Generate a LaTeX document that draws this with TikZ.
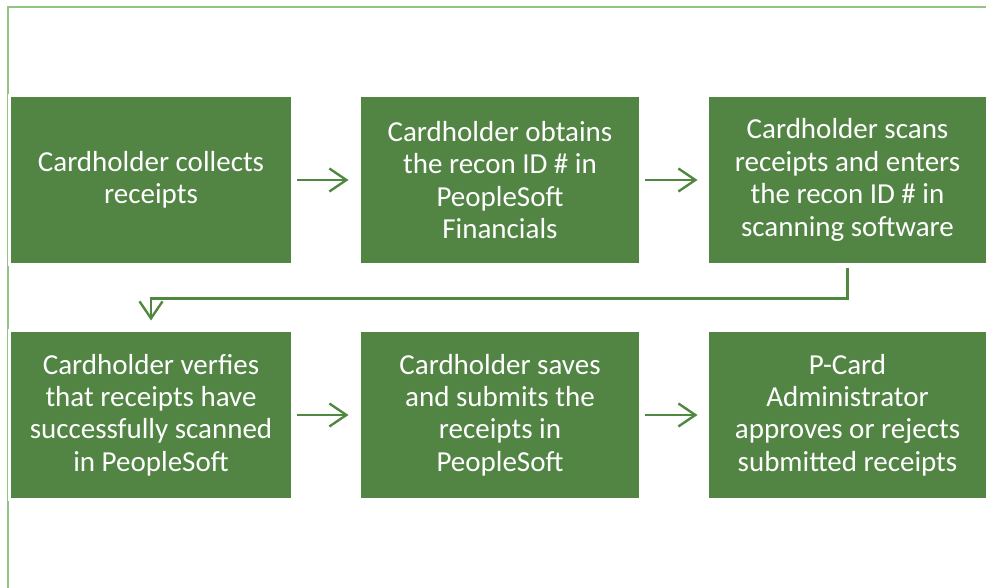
\documentclass[tikz,border=0pt]{standalone}
\usepackage{fontspec}
\setmainfont{Carlito}
\usetikzlibrary{arrows.meta}
\definecolor{boxgreen}{RGB}{82,132,68}
\definecolor{arrowgreen}{RGB}{80,136,64}
\definecolor{framegreen}{RGB}{146,196,132}
\tikzset{
  stepbox/.style={rectangle, fill=boxgreen, draw=white, line width=3pt, minimum height=169pt, inner sep=0pt,
    text=white, align=center, font=\fontsize{29}{32.4}\selectfont},
  flowarrow/.style={draw=arrowgreen, line width=2.4pt, -{Straight Barb[length=17pt,width=23pt,line width=2.4pt]}},
}
\begin{document}
\begin{tikzpicture}[x=1pt,y=-1pt]
\useasboundingbox (0,0) rectangle (986,588);
\fill[white] (0,0) rectangle (986,588);
\draw[framegreen, line width=2.2pt] (8,588) -- (8,7) -- (986,7);
\node[stepbox, minimum width=283pt] (b1) at (151,180) {Cardholder collects\\receipts};
\node[stepbox, minimum width=281pt] (b2) at (500,180) {Cardholder obtains\\the recon ID \# in\\PeopleSoft\\Financials};
\node[stepbox, minimum width=280pt] (b3) at (847.5,180) {Cardholder scans\\receipts and enters\\the recon ID \# in\\scanning software};
\node[stepbox, minimum width=283pt] (b4) at (151,415) {Cardholder verfies\\that receipts have\\successfully scanned\\in PeopleSoft};
\node[stepbox, minimum width=281pt] (b5) at (500,415) {Cardholder saves\\and submits the\\receipts in\\PeopleSoft};
\node[stepbox, minimum width=280pt] (b6) at (847.5,415) {P-Card\\Administrator\\approves or rejects\\submitted receipts};
\draw[flowarrow, shorten <=2.5pt, shorten >=9.5pt] (b1) -- (b2);
\draw[flowarrow, shorten <=2.5pt, shorten >=8.5pt] (b2) -- (b3);
\draw[flowarrow, shorten <=2.5pt, shorten >=9.5pt] (b4) -- (b5);
\draw[flowarrow, shorten <=2.5pt, shorten >=8.5pt] (b5) -- (b6);
\draw[flowarrow, shorten <=2.5pt, shorten >=8.5pt] (b3.south) -- ++(0,32.5) -| (b4.north);
\end{tikzpicture}
\end{document}
